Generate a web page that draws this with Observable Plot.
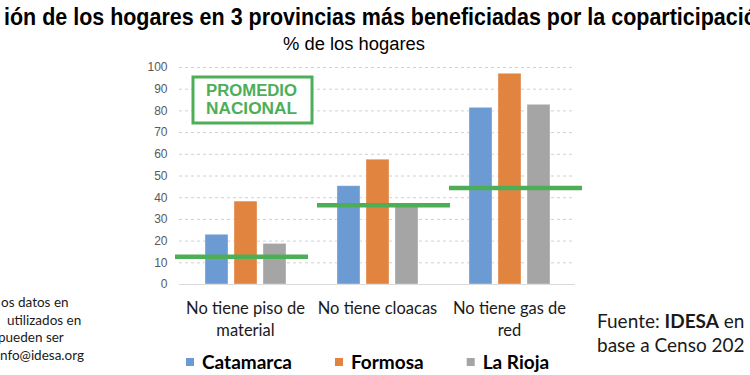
<!DOCTYPE html>
<html><head><meta charset="utf-8">
<script src="https://cdn.jsdelivr.net/npm/d3@7"></script>
<script src="https://cdn.jsdelivr.net/npm/@observablehq/plot@0.6"></script>
<style>
body{margin:0;background:#fff}
#wrap{position:relative;width:750px;height:375px;overflow:hidden}
#wrap svg{position:absolute;left:0;top:0}
</style></head><body><div id="wrap"></div>
<script>
// ---- data ----
const categories = ["No tiene piso de material", "No tiene cloacas", "No tiene gas de red"];
const tickLabels = ["No tiene piso de\nmaterial", "No tiene cloacas", "No tiene gas de\nred"];
const series = ["Catamarca", "Formosa", "La Rioja"];
const catamarca = [22.9, 45.3, 81.4];
const formosa = [38.2, 57.5, 97.1];
const laRioja = [18.7, 36.1, 82.8];
const nationalAvg = [12.8, 36.5, 44.5];
const yTicks = [0, 10, 20, 30, 40, 50, 60, 70, 80, 90, 100];
const colors = ["#6b9bd2", "#e0843f", "#a5a5a5"];
const titleText = "ión de los hogares en 3 provincias más beneficiadas por la coparticipación";
const titleVisible = "ión de los hogares en 3 provincias más beneficiadas por la coparticipaci";
const subtitleText = "% de los hogares";
const boxLines = ["PROMEDIO", "NACIONAL"];
const noteLines = ["os datos en", "utilizados en", "pueden ser", "nfo@idesa.org"];
const sourceLine1 = ["Fuente: ", "IDESA", " en"];
const sourceLine2 = "base a Censo 202";

const green = "#4eae58";
const seriesValues = [catamarca, formosa, laRioja];
const rows = categories.flatMap((c, i) => series.map((s, j) => ({group: c, series: s, value: seriesValues[j][i]})));
const avgRows = categories.map((c, i) => ({group: c, value: nationalAvg[i]}));

const plot = Plot.plot({
  width: 750, height: 375,
  marginLeft: 179, marginRight: 175, marginTop: 67, marginBottom: 91,
  style: {fontFamily: "'Liberation Sans', Arial, sans-serif", background: "transparent"},
  fx: {domain: categories, padding: 0, label: null},
  x: {domain: series, paddingInner: 0.215, paddingOuter: 0.845, axis: null},
  y: {domain: [0, 100], label: null},
  color: {domain: series, range: colors},
  marks: [
    Plot.gridY(yTicks.filter(d => d > 0), {stroke: "#d0d0d0", strokeOpacity: 1, strokeDasharray: "3,3"}),
    Plot.ruleY([0], {stroke: "#d9d9d9"}),
    Plot.barY(rows, {fx: "group", x: "series", y: "value", fill: "series", stroke: "#ffffff", strokeOpacity: 0.35}),
    Plot.ruleY(avgRows.slice(0, 1), {fx: "group", y: "value", stroke: green, strokeWidth: 4.5, insetLeft: -4, insetRight: 3}),
    Plot.ruleY(avgRows.slice(1), {fx: "group", y: "value", stroke: green, strokeWidth: 4.5, insetLeft: 6, insetRight: -7}),
    Plot.axisY(yTicks, {tickSize: 0, tickPadding: 12, fontSize: 12, fill: "#595959", label: null}),
    Plot.axisFx({anchor: "bottom", tickSize: 0, tickPadding: 13, fontSize: 16.5, lineHeight: 1.38,
      fontFamily: "Lato, 'Open Sans', sans-serif", fill: "#1a1a1a", label: null,
      tickFormat: d => tickLabels[categories.indexOf(d)]})
  ]
});
const wrap = d3.select("#wrap");
wrap.node().appendChild(plot);

// ---- overlay texts ----
const ov = wrap.append("svg").attr("width", 750).attr("height", 375);

// title
const tf = {"font-family": "'Liberation Sans', Arial, sans-serif", "font-weight": "bold", "font-size": 23.5};
const probe = ov.append("text").attr("x", 0).attr("y", -50);
Object.entries(tf).forEach(([k, v]) => probe.attr(k, v));
probe.text(titleVisible);
const pw = probe.node().getComputedTextLength();
probe.remove();
const tt = ov.append("text").attr("x", 0).attr("y", 0).attr("fill", "#000")
  .attr("transform", `translate(4,24.5) scale(${740 / pw},1)`);
Object.entries(tf).forEach(([k, v]) => tt.attr(k, v));
tt.text(titleText);

// subtitle
ov.append("text").attr("x", 283).attr("y", 50)
  .attr("font-family", "'Liberation Sans', Arial, sans-serif").attr("font-size", 18)
  .attr("textLength", 142).attr("lengthAdjust", "spacingAndGlyphs").attr("fill", "#000")
  .text(subtitleText);

// promedio box
ov.append("rect").attr("x", 193).attr("y", 77).attr("width", 119).attr("height", 46)
  .attr("fill", "#fff").attr("stroke", green).attr("stroke-width", 3);
boxLines.forEach((s, i) => {
  ov.append("text").attr("x", 206).attr("y", 95.5 + i * 18.5)
    .attr("font-family", "'Liberation Sans', Arial, sans-serif").attr("font-weight", "bold").attr("font-size", 16)
    .attr("textLength", 91).attr("lengthAdjust", "spacingAndGlyphs").attr("fill", green).text(s);
});

// notes at left
const noteX = [1, 7, -2, 0];
noteLines.forEach((s, i) => {
  ov.append("text").attr("x", noteX[i]).attr("y", 307 + i * 17.7)
    .attr("font-family", "Lato, sans-serif").attr("font-size", 13.5).attr("fill", "#1a1a1a").text(s);
});

// source
const s1 = ov.append("text").attr("x", 597).attr("y", 328)
  .attr("font-family", "Lato, sans-serif").attr("font-size", 19).attr("fill", "#1a1a1a");
sourceLine1.forEach((s, i) => s1.append("tspan").attr("font-weight", i === 1 ? "bold" : "normal").text(s));
ov.append("text").attr("x", 597).attr("y", 352)
  .attr("font-family", "Lato, sans-serif").attr("font-size", 19).attr("fill", "#1a1a1a").text(sourceLine2);

// legend
let lx = 186;
series.forEach((s, i) => {
  ov.append("rect").attr("x", lx).attr("y", 358).attr("width", 8).attr("height", 8).attr("fill", colors[i]);
  const t = ov.append("text").attr("x", lx + 16).attr("y", 368.5)
    .attr("font-family", "Lato, sans-serif").attr("font-weight", "bold").attr("font-size", 19)
    .attr("fill", "#000").text(s);
  lx += 16 + t.node().getComputedTextLength() + 43;
});
</script>
</body></html>
